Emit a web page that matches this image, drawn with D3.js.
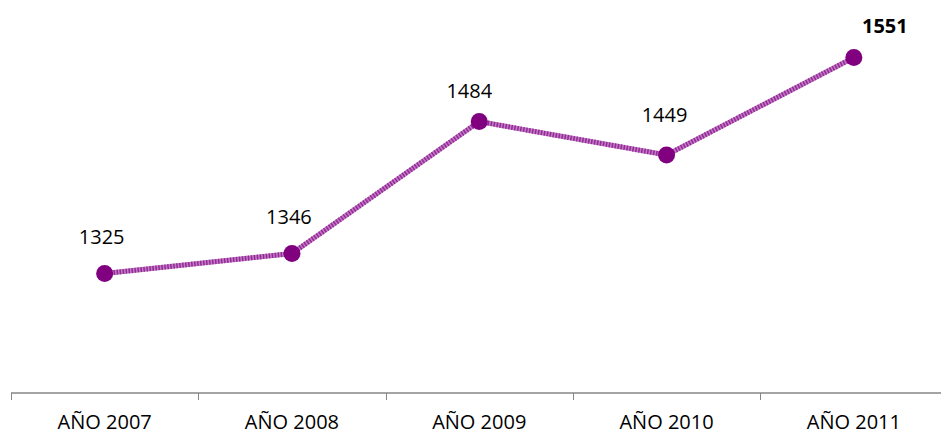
<!DOCTYPE html>
<html>
<head>
<meta charset="utf-8">
<script src="https://cdn.jsdelivr.net/npm/d3@7"></script>
<style>
  html, body { margin: 0; padding: 0; background: #ffffff; }
  svg { display: block; }
</style>
</head>
<body>
<div id="chart"></div>
<script>
const categories = ["AÑO 2007", "AÑO 2008", "AÑO 2009", "AÑO 2010", "AÑO 2011"];
const values = [1325, 1346, 1484, 1449, 1551];
const yDomain = [1200, 1600];

// label placement (layout only): [dx, dy] from marker centre to label baseline-centre
const labelShift = [[-3, -30], [-3, -29], [-10, -24], [-2, -33], [31, -25]];

const W = 941, H = 435;
const svg = d3.select("#chart").append("svg").attr("width", W).attr("height", H);

const x = d3.scaleBand().domain(categories).range([11, 947.5]).paddingInner(0).paddingOuter(0);
const y = d3.scaleLinear().domain(yDomain).range([393, 10.7]);

const font = "'Open Sans', sans-serif";

// X axis
const axisG = svg.append("g").attr("transform", `translate(0,${y(yDomain[0])})`);
axisG.append("line").attr("x1", 11).attr("x2", W).attr("y1", 0).attr("y2", 0)
  .attr("stroke", "#868686").attr("stroke-width", 1.5);
const tickPos = categories.map(c => x(c)).concat([x(categories[categories.length - 1]) + x.bandwidth()]);
axisG.selectAll("line.tick").data(tickPos).enter().append("line")
  .attr("class", "tick")
  .attr("x1", d => Math.round(d) + 0.5).attr("x2", d => Math.round(d) + 0.5)
  .attr("y1", 0).attr("y2", 7)
  .attr("stroke", "#868686").attr("stroke-width", 1);
axisG.selectAll("text").data(categories).enter().append("text")
  .attr("x", d => x(d) + x.bandwidth() / 2)
  .attr("y", 36)
  .attr("text-anchor", "middle")
  .attr("font-family", font).attr("font-size", 20).attr("fill", "#000")
  .text(d => d);

// Line
const pts = categories.map((c, i) => [x(c) + x.bandwidth() / 2, y(values[i])]);
const line = d3.line();
svg.append("path").attr("d", line(pts)).attr("fill", "none")
  .attr("stroke", "#c27ac4").attr("stroke-width", 5).attr("stroke-linejoin", "round");
svg.append("path").attr("d", line(pts)).attr("fill", "none")
  .attr("stroke", "#932a96").attr("stroke-width", 5).attr("stroke-dasharray", "1.5,1.5");

// Markers
svg.selectAll("circle").data(pts).enter().append("circle")
  .attr("cx", d => d[0]).attr("cy", d => d[1]).attr("r", 8.5)
  .attr("fill", "#800080");

// Labels
svg.selectAll("text.lbl").data(values).enter().append("text")
  .attr("class", "lbl")
  .attr("x", (d, i) => pts[i][0] + labelShift[i][0])
  .attr("y", (d, i) => pts[i][1] + labelShift[i][1])
  .attr("text-anchor", "middle")
  .attr("font-family", font).attr("font-size", 20)
  .attr("font-weight", (d, i) => i === values.length - 1 ? "bold" : "normal")
  .attr("fill", "#000")
  .text(d => d);
</script>
</body>
</html>
